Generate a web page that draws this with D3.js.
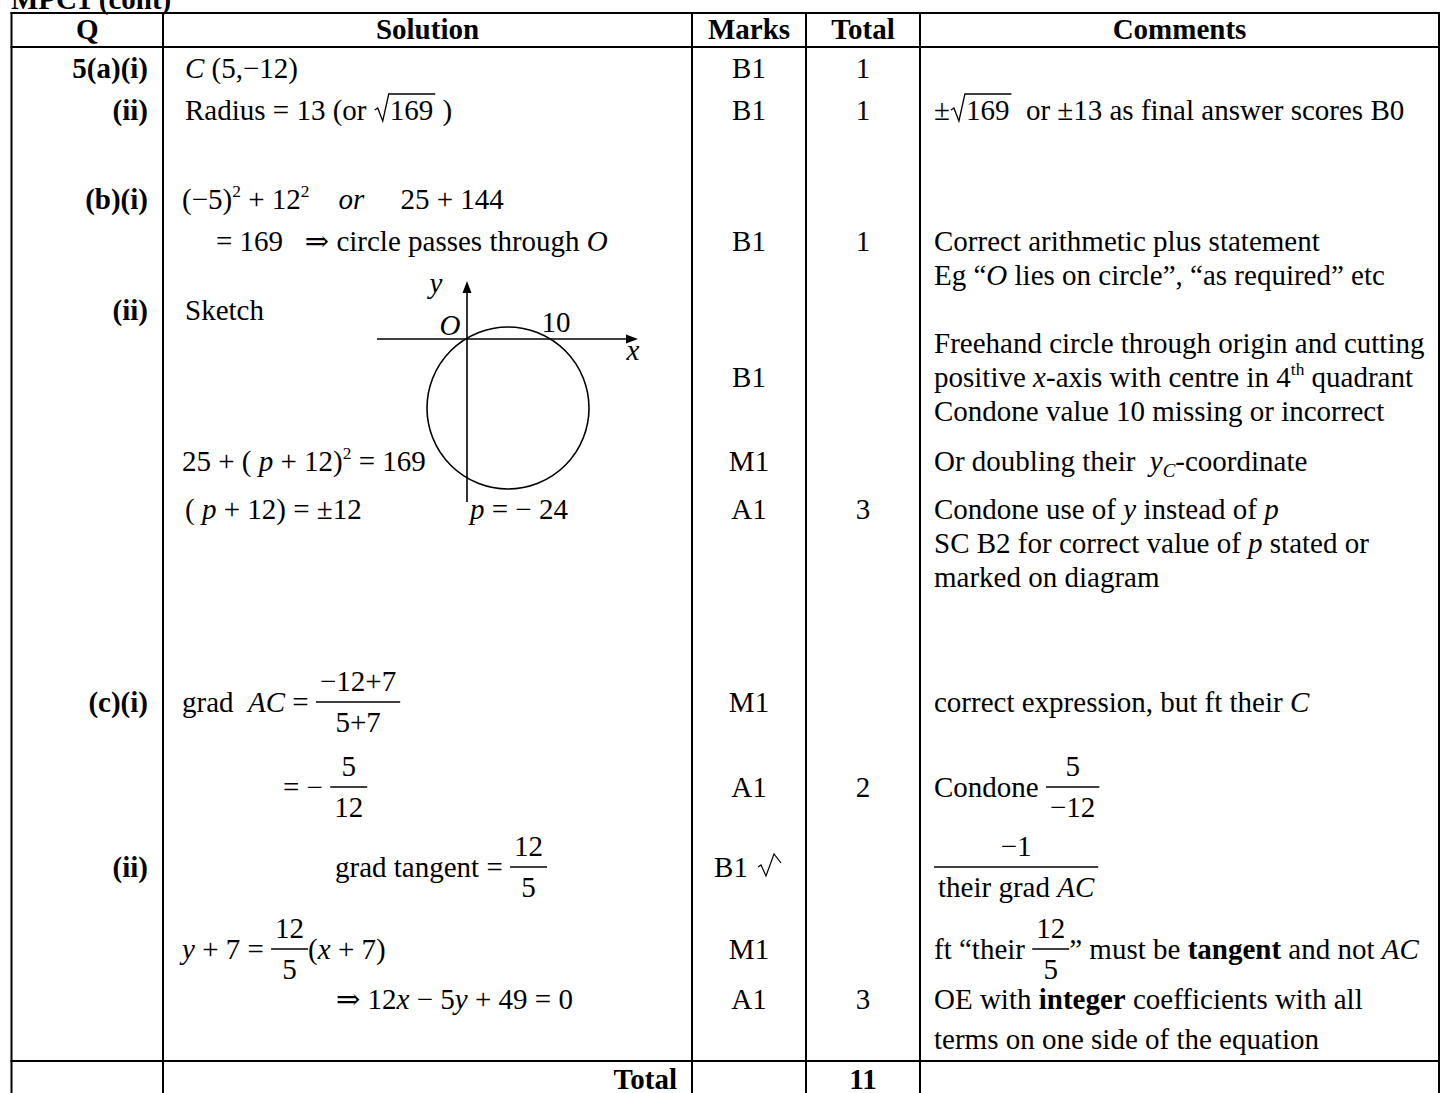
<!DOCTYPE html>
<html>
<head>
<meta charset="utf-8">
<script src="https://cdn.jsdelivr.net/npm/d3@7"></script>
<style>
  body { margin: 0; background: #fff; }
  svg text { font-family: "Liberation Serif", "Times New Roman", "DejaVu Serif", serif; fill: #000; }
</style>
</head>
<body>
<div id="chart"></div>
<script>
// table content, markup: _italic_  *bold*  ^sup^  ~sub~
const title = "MPC1 (cont)";
const columns = ["Q", "Solution", "Marks", "Total", "Comments"];

const qLabels = [
  { row: "a_i", text: "5(a)(i)" },
  { row: "a_ii", text: "(ii)" },
  { row: "b_i", text: "(b)(i)" },
  { row: "b_ii", text: "(ii)" },
  { row: "c_i", text: "(c)(i)" },
  { row: "c_ii", text: "(ii)" }
];

const solutions = [
  { row: "a_i", indent: 0, parts: ["_C_ (5,−12)"] },
  { row: "a_ii", indent: 0, parts: ["Radius = 13 (or ", { sqrt: "169" }, " )"] },
  { row: "b_i", indent: -3, parts: ["(−5)^2^ + 12^2^    _or_     25 + 144"] },
  { row: "b_i2", indent: 31, parts: ["= 169   ⇒ circle passes through _O_"] },
  { row: "b_ii", indent: 0, parts: ["Sketch"] },
  { row: "m1p", indent: -3, parts: ["25 + ( _p_ + 12)^2^ = 169"] },
  { row: "a1p", indent: 0, parts: ["( _p_ + 12) = ±12"] },
  { row: "a1p", indent: 285, parts: ["_p_ = − 24"] },
  { row: "c_i", indent: -3, parts: ["grad  _AC_ = ", { frac: ["−12+7", "5+7"] }] },
  { row: "c_i2", indent: 98, parts: ["= − ", { frac: ["5", "12"] }] },
  { row: "c_ii", indent: 150, parts: ["grad tangent = ", { frac: ["12", "5"] }] },
  { row: "m1c", indent: -3, parts: ["_y_ + 7 = ", { frac: ["12", "5"] }, "(_x_ + 7)"] },
  { row: "a1c", indent: 151, parts: ["⇒ 12_x_ − 5_y_ + 49 = 0"] }
];

const marks = [
  { row: "a_i", text: "B1" },
  { row: "a_ii", text: "B1" },
  { row: "b_i2", text: "B1" },
  { row: "pos", text: "B1" },
  { row: "m1p", text: "M1" },
  { row: "a1p", text: "A1" },
  { row: "c_i", text: "M1" },
  { row: "c_i2", text: "A1" },
  { row: "c_ii", text: "B1", ft: true },
  { row: "m1c", text: "M1" },
  { row: "a1c", text: "A1" }
];

const totals = [
  { row: "a_i", text: "1" },
  { row: "a_ii", text: "1" },
  { row: "b_i2", text: "1" },
  { row: "a1p", text: "3" },
  { row: "c_i2", text: "2" },
  { row: "a1c", text: "3" }
];

const comments = [
  { row: "a_ii", parts: ["±", { sqrt: "169" }, "  or ±13 as final answer scores B0"] },
  { row: "b_i2", parts: ["Correct arithmetic plus statement"] },
  { row: "eg", parts: ["Eg “_O_ lies on circle”, “as required” etc"] },
  { row: "free", parts: ["Freehand circle through origin and cutting"] },
  { row: "pos", parts: ["positive _x_-axis with centre in 4^th^ quadrant"] },
  { row: "cond10", parts: ["Condone value 10 missing or incorrect"] },
  { row: "m1p", parts: ["Or doubling their  _y_~C~-coordinate"] },
  { row: "a1p", parts: ["Condone use of _y_ instead of _p_"] },
  { row: "sc", parts: ["SC B2 for correct value of _p_ stated or"] },
  { row: "marked", parts: ["marked on diagram"] },
  { row: "c_i", parts: ["correct expression, but ft their _C_"] },
  { row: "c_i2", parts: ["Condone ", { frac: ["5", "−12"] }] },
  { row: "c_ii", parts: [{ frac: ["−1", "their grad _AC_"] }] },
  { row: "m1c", parts: ["ft “their ", { frac: ["12", "5"] }, "” must be *tangent* and not _AC_"] },
  { row: "a1c", parts: ["OE with *integer* coefficients with all"] },
  { row: "terms", parts: ["terms on one side of the equation"] }
];

const totalLabel = "Total";
const totalValue = "11";

// freehand sketch (units = px from origin O)
const sketchAxisX = [-90, 171];
const sketchAxisY = [-163, 58];
const sketchCircle = { cx: 41, cy: -69, r: 81 };
const sketchLabels = [
  { text: "y", x: -31, y: 46, italic: true },
  { text: "O", x: -17, y: 4, italic: true },
  { text: "10", x: 89, y: 7, italic: false },
  { text: "x", x: 166, y: -21, italic: true }
];

// layout
const width = 1440, height = 1093;
const fontSize = 29;
const rowKeys = ["header", "a_i", "a_ii", "b_i", "b_i2", "eg", "b_ii", "free", "pos", "cond10",
  "m1p", "a1p", "sc", "marked", "c_i", "c_i2", "c_ii", "m1c", "a1c", "terms", "total"];
const rowY = d3.scaleOrdinal(rowKeys,
  [39, 78, 120, 209, 251, 285, 320, 353, 387, 421, 471, 519, 553, 587, 712, 797, 877, 959, 1009, 1049, 1089]);
const colEdges = [11.5, 163, 692, 806, 920, 1439];
const colX = d3.scaleOrdinal(columns, colEdges.slice(0, -1));
const colW = d3.scaleOrdinal(columns, d3.pairs(colEdges).map(([a, b]) => b - a));
const lineTop = 13, headerBottom = 47, totalTop = 1061;

const svg = d3.select("#chart")
  .append("svg")
  .attr("width", width)
  .attr("height", height)
  .attr("font-size", fontSize);

const nb = s => s.replace(/ /g, "\u00A0");

// parse the little markup into tspans
function rich(text, str) {
  const pieces = str.split(/(_[^_]+_|\*[^*]+\*|\^[^^]+\^|~[^~]+~)/g).filter(s => s !== "");
  let back = 0;
  pieces.forEach(p => {
    const t = text.append("tspan");
    let s = p, dy = 0;
    if (/^_.*_$/.test(p)) { s = p.slice(1, -1); t.attr("font-style", "italic"); }
    else if (/^\*.*\*$/.test(p)) { s = p.slice(1, -1); t.attr("font-weight", "bold"); }
    else if (/^\^.*\^$/.test(p)) { s = p.slice(1, -1); t.attr("font-size", "0.6em"); dy = -12; }
    else if (/^~.*~$/.test(p)) { s = p.slice(1, -1); t.attr("font-size", "0.65em").attr("font-style", "italic"); dy = 6; }
    if (dy - back !== 0) t.attr("dy", dy - back);
    back = dy;
    t.text(nb(s));
  });
}

function drawParts(g, x, y, parts) {
  let cx = x;
  parts.forEach(p => {
    if (typeof p === "string") {
      const t = g.append("text").attr("x", cx).attr("y", y);
      rich(t, p);
      cx += t.node().getComputedTextLength();
    } else if (p.frac) {
      const bar = y - 10;
      const tn = g.append("text").attr("y", bar - 11).attr("text-anchor", "middle");
      rich(tn, p.frac[0]);
      const td = g.append("text").attr("y", bar + 30).attr("text-anchor", "middle");
      rich(td, p.frac[1]);
      const w = Math.max(tn.node().getComputedTextLength(), td.node().getComputedTextLength()) + 8;
      tn.attr("x", cx + w / 2);
      td.attr("x", cx + w / 2);
      g.append("line")
        .attr("x1", cx).attr("x2", cx + w)
        .attr("y1", bar).attr("y2", bar)
        .attr("stroke", "#000").attr("stroke-width", 1.3);
      cx += w;
    } else if (p.sqrt) {
      const t = g.append("text").attr("x", cx + 16).attr("y", y).text(p.sqrt);
      const w = t.node().getComputedTextLength();
      g.append("path")
        .attr("d", `M${cx + 1},${y - 10} L${cx + 4},${y - 12} L${cx + 9},${y + 1} L${cx + 15},${y - 26} L${cx + 18 + w},${y - 26}`)
        .attr("fill", "none").attr("stroke", "#000").attr("stroke-width", 1.3);
      cx += 18 + w;
    }
  });
  return cx;
}

// title (cut at the top edge, like the scanned page)
svg.append("text")
  .attr("x", 11).attr("y", 9)
  .attr("font-weight", "bold")
  .text(title);

// grid lines
const grid = svg.append("g").attr("stroke", "#000").attr("stroke-width", 2);
[lineTop, headerBottom, totalTop].forEach(yy => {
  grid.append("line").attr("x1", colEdges[0] - 1).attr("x2", width).attr("y1", yy).attr("y2", yy);
});
colEdges.forEach(xx => {
  grid.append("line").attr("x1", xx).attr("x2", xx).attr("y1", lineTop - 1).attr("y2", height);
});

// header
svg.append("g")
  .attr("font-weight", "bold")
  .attr("text-anchor", "middle")
  .selectAll("text")
  .data(columns)
  .join("text")
  .attr("x", d => colX(d) + colW(d) / 2)
  .attr("y", rowY("header"))
  .text(d => d);

// question labels
svg.append("g")
  .attr("font-weight", "bold")
  .attr("text-anchor", "end")
  .selectAll("text")
  .data(qLabels)
  .join("text")
  .attr("x", colX("Solution") - 15)
  .attr("y", d => rowY(d.row))
  .text(d => d.text);

// solutions
const solG = svg.append("g");
solutions.forEach(d => drawParts(solG, colX("Solution") + 22 + d.indent, rowY(d.row), d.parts));

// marks
const markG = svg.append("g").attr("text-anchor", "middle");
marks.forEach(d => {
  const cx = colX("Marks") + colW("Marks") / 2;
  if (d.ft) {
    markG.append("text").attr("x", cx - 18).attr("y", rowY(d.row)).text(d.text);
    const y = rowY(d.row), x = cx + 9;
    markG.append("path")
      .attr("d", `M${x},${y - 10} L${x + 3},${y - 12} L${x + 8},${y - 1} L${x + 16},${y - 23} L${x + 23},${y - 14}`)
      .attr("fill", "none").attr("stroke", "#000").attr("stroke-width", 1.2);
  } else {
    markG.append("text").attr("x", cx).attr("y", rowY(d.row)).text(d.text);
  }
});

// totals
svg.append("g")
  .attr("text-anchor", "middle")
  .selectAll("text")
  .data(totals)
  .join("text")
  .attr("x", colX("Total") + colW("Total") / 2)
  .attr("y", d => rowY(d.row))
  .text(d => d.text);

// comments
const comG = svg.append("g");
comments.forEach(d => drawParts(comG, colX("Comments") + 14, rowY(d.row), d.parts));

// total row
svg.append("text")
  .attr("x", colX("Marks") - 15)
  .attr("y", rowY("total"))
  .attr("text-anchor", "end")
  .attr("font-weight", "bold")
  .text(totalLabel);
svg.append("text")
  .attr("x", colX("Total") + colW("Total") / 2)
  .attr("y", rowY("total"))
  .attr("text-anchor", "middle")
  .attr("font-weight", "bold")
  .text(totalValue);

// sketch
const sx = d3.scaleLinear().domain([0, 100]).range([467, 567]);
const sy = d3.scaleLinear().domain([0, 100]).range([339, 239]);
const sk = svg.append("g").attr("stroke", "#000").attr("stroke-width", 1.6).attr("fill", "none");

sk.append("line")
  .attr("x1", sx(sketchAxisX[0])).attr("x2", sx(sketchAxisX[1]) - 8)
  .attr("y1", sy(0)).attr("y2", sy(0));
sk.append("line")
  .attr("x1", sx(0)).attr("x2", sx(0))
  .attr("y1", sy(sketchAxisY[0])).attr("y2", sy(sketchAxisY[1]) + 8);
sk.append("path")
  .attr("fill", "#000").attr("stroke", "none")
  .attr("d", `M${sx(sketchAxisX[1])},${sy(0)} l-12,-4.5 l0,9 z`);
sk.append("path")
  .attr("fill", "#000").attr("stroke", "none")
  .attr("d", `M${sx(0)},${sy(sketchAxisY[1])} l-4.5,12 l9,0 z`);
sk.append("circle")
  .attr("cx", sx(sketchCircle.cx))
  .attr("cy", sy(sketchCircle.cy))
  .attr("r", sx(sketchCircle.r) - sx(0));

svg.append("g")
  .attr("text-anchor", "middle")
  .selectAll("text")
  .data(sketchLabels)
  .join("text")
  .attr("x", d => sx(d.x))
  .attr("y", d => sy(d.y))
  .attr("font-style", d => d.italic ? "italic" : null)
  .text(d => d.text);
</script>
</body>
</html>
